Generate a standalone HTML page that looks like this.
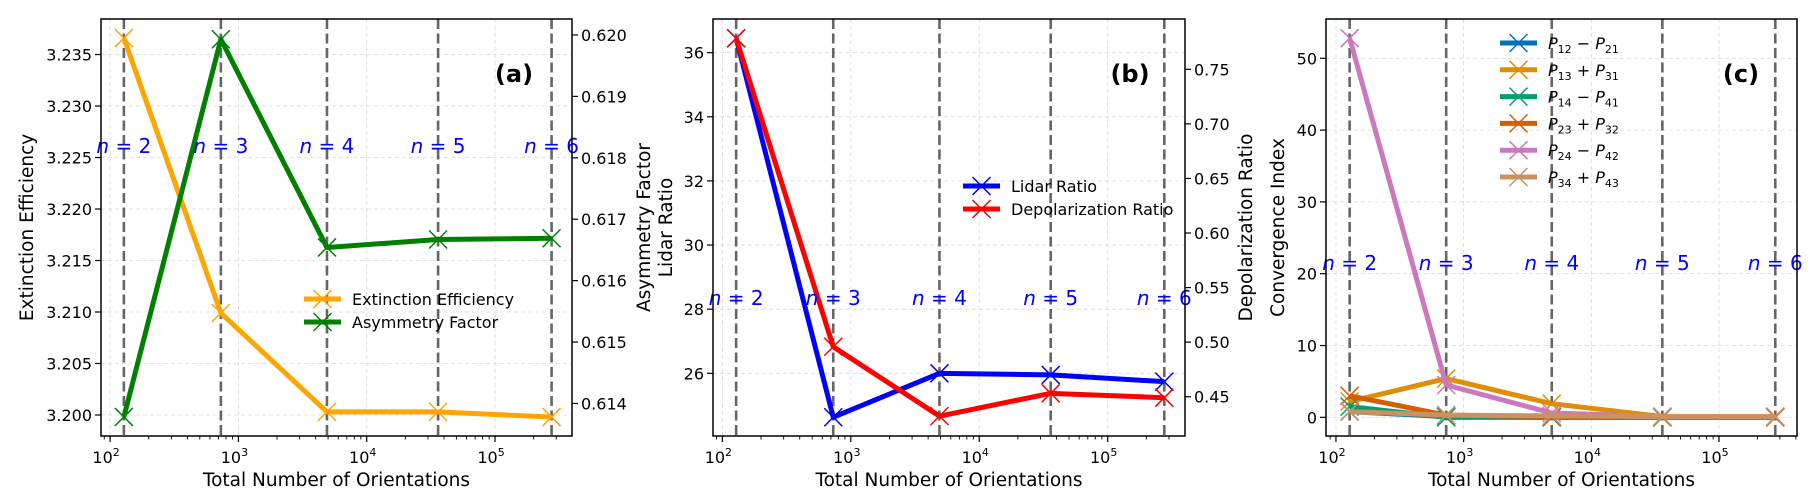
<!DOCTYPE html>
<html><head><meta charset="utf-8"><style>
body{margin:0;background:#fff;}
svg{display:block;font-family:"DejaVu Sans","Liberation Sans",sans-serif;}
</style></head><body>
<svg id="fig" width="1818" height="504" viewBox="0 0 1818 504" xmlns="http://www.w3.org/2000/svg"></svg>
<script>
// ---- data ----
const orientations = [128, 730, 4900, 36000, 276000];
const nLabels = ["2","3","4","5","6"];
const extinctionEff = [3.2366, 3.2099, 3.2003, 3.2003, 3.1998];
const asymmetryFactor = [0.61378, 0.61993, 0.61654, 0.61667, 0.61669];
const lidarRatio = [36.45, 24.63, 26.0, 25.95, 25.74];
const depolRatio = [0.7784, 0.4958, 0.4322, 0.4531, 0.4491];
const p12 = [0.8, 0.1, 0.0, 0.0, 0.0];
const p13 = [2.2, 5.4, 1.9, 0.1, 0.1];
const p14 = [1.5, 0.0, 0.0, 0.0, 0.0];
const p23 = [3.0, 0.3, 0.1, 0.0, 0.0];
const p24 = [52.8, 4.5, 0.6, 0.1, 0.1];
const p34 = [0.8, 0.3, 0.2, 0.1, 0.1];
const ticksA = [3.200,3.205,3.210,3.215,3.220,3.225,3.230,3.235];
const ticksA2 = [0.614,0.615,0.616,0.617,0.618,0.619,0.620];
const ticksB = [26,28,30,32,34,36];
const ticksB2 = [0.45,0.50,0.55,0.60,0.65,0.70,0.75];
const ticksC = [0,10,20,30,40,50];

const svg = document.getElementById('fig');
const NS = 'http://www.w3.org/2000/svg';
function el(tag, attrs, parent, text){
  const e = document.createElementNS(NS, tag);
  for (const k in attrs) e.setAttribute(k, attrs[k]);
  if (text !== undefined) e.textContent = text;
  (parent||svg).appendChild(e);
  return e;
}

function panel(cfg){
  const g = el('g', {});
  
  
  const L=cfg.L,R=cfg.R,T=19,B=436;
  const xs = v => L + (Math.log10(v)-cfg.xmin)/(cfg.xmax-cfg.xmin)*(R-L);
  const ys = (v,lo,hi) => B - (v-lo)/(hi-lo)*(B-T);
  const yl = v => ys(v, cfg.ylo, cfg.yhi);
  const yr = v => ys(v, cfg.rlo, cfg.rhi);
  for (let d=2; d<=5; d++){
    const l = el('line',{x1:xs(Math.pow(10,d)),x2:xs(Math.pow(10,d)),y1:T,y2:B,stroke:'#d8d8d8','stroke-width':0.8,'stroke-dasharray':'4,3'},g);
    
    
  }
  cfg.yticks.forEach(t=>{
    const l = el('line',{x1:L,x2:R,y1:yl(t),y2:yl(t),stroke:'#d8d8d8','stroke-width':0.8,'stroke-dasharray':'4,3'},g);
    
    
  });
  orientations.forEach(o=>{
    const l = el('line',{x1:xs(o),x2:xs(o),y1:T,y2:B,stroke:'#666','stroke-width':2.6,'stroke-dasharray':'10,4.5'},g);
    
    
  });
  cfg.series.forEach(s=>{
    const sc = s.right ? yr : yl;
    const pts = orientations.map((o,i)=>xs(o)+','+sc(s.data[i])).join(' ');
    const sg = el('g',{},g);
    
    
    el('polyline',{points:pts,fill:'none',stroke:s.color,'stroke-width':5,'stroke-linejoin':'round'},sg);
    orientations.forEach((o,i)=>{
      const x=xs(o), y=sc(s.data[i]), m=9;
      const p = el('path',{d:`M${x-m},${y-m}L${x+m},${y+m}M${x-m},${y+m}L${x+m},${y-m}`,stroke:s.color,'stroke-width':1.5,fill:'none'},sg);
      
      
    });
  });
  orientations.forEach((o,i)=>{
    const t = el('text',{x:xs(o),y:cfg.nY,'text-anchor':'middle','font-size':20,fill:'#0000ff'},g);
    
    
    el('tspan',{'font-style':'italic'},t,'n');
    el('tspan',{},t,' = '+nLabels[i]);
  });
  const f = el('rect',{x:L,y:T,width:R-L,height:B-T,fill:'none',stroke:'#000','stroke-width':1.5},g);
  
  
  for (let d=1; d<=5; d++){
    for (let k=1;k<10;k++){
      const v = k*Math.pow(10,d), lv=Math.log10(v);
      if (lv<cfg.xmin||lv>cfg.xmax) continue;
      const x=xs(v);
      el('line',{x1:x,x2:x,y1:B,y2:B+(k==1?6:3.5),stroke:'#000','stroke-width':k==1?1.2:0.9},g);
      if (k==1){
        const t = el('text',{x:x-4,y:463,'text-anchor':'middle','font-size':16},g,'10');
        
        
        el('tspan',{'font-size':11,dy:-7},t,String(d));
      }
    }
  }
  cfg.yticks.forEach(v=>{
    el('line',{x1:L-6,x2:L,y1:yl(v),y2:yl(v),stroke:'#000','stroke-width':1.2},g);
    const t = el('text',{x:L-9,y:yl(v)+6,'text-anchor':'end','font-size':16},g,cfg.yfmt(v));
    
    
  });
  if (cfg.rticks) cfg.rticks.forEach(v=>{
    el('line',{x1:R,x2:R+6,y1:yr(v),y2:yr(v),stroke:'#000','stroke-width':1.2},g);
    const t = el('text',{x:R+9,y:yr(v)+6,'text-anchor':'start','font-size':16},g,cfg.rfmt(v));
    
    
  });
  const xl = el('text',{x:(L+R)/2,y:486,'text-anchor':'middle','font-size':18.5},g,'Total Number of Orientations');
  
  
  const yt = el('text',{x:0,y:0,'text-anchor':'middle','font-size':18.5,transform:`translate(${cfg.ylx},${(T+B)/2}) rotate(-90)`},g,cfg.ylabel);
  
  
  if (cfg.rlabel){
    const rt = el('text',{x:0,y:0,'text-anchor':'middle','font-size':18.5,transform:`translate(${cfg.rlx},${(T+B)/2}) rotate(-90)`},g,cfg.rlabel);
    
    
  }
  const pl = el('text',{x:cfg.tagX,y:82,'text-anchor':'middle','font-size':24,'font-weight':'bold'},g,cfg.tag);
  
  
  cfg.series.forEach((s,i)=>{
    const y = cfg.legY + i*cfg.legDy;
    const lg = el('g',{},g);
    
    
    el('line',{x1:cfg.legX,x2:cfg.legX+37,y1:y,y2:y,stroke:s.color,'stroke-width':5},lg);
    const cx=cfg.legX+18.5,m=9;
    el('path',{d:`M${cx-m},${y-m}L${cx+m},${y+m}M${cx-m},${y+m}L${cx+m},${y-m}`,stroke:s.color,'stroke-width':1.5},lg);
    const t = el('text',{x:cfg.legX+48,y:y+6,'font-size':16},lg);
    if (s.sub){
      el('tspan',{'font-style':'italic'},t,'P');
      el('tspan',{'font-size':11,dy:4},t,s.sub[0]);
      el('tspan',{dy:-4},t,' '+s.sub[1]+' ');
      el('tspan',{'font-style':'italic'},t,'P');
      el('tspan',{'font-size':11,dy:4},t,s.sub[2]);
    } else t.textContent = s.label;
  });
}

panel({name:'panel-a',L:101,R:572,xmin:1.929,xmax:5.600,ylo:3.19796,yhi:3.23845,rlo:0.61347,rhi:0.62026,
  yticks:ticksA,rticks:ticksA2,yfmt:v=>v.toFixed(3),rfmt:v=>v.toFixed(3),nY:153,
  ylabel:'Extinction Efficiency',ylx:33,rlabel:'Asymmetry Factor',rlx:650,tag:'(a)',tagX:514,
  legX:304,legY:299,legDy:23,
  series:[{id:'extinction-efficiency-line',label:'Extinction Efficiency',color:'#ffa500',data:extinctionEff},
          {id:'asymmetry-factor-line',label:'Asymmetry Factor',color:'#008000',data:asymmetryFactor,right:true}]});
panel({name:'panel-b',L:713,R:1185,xmin:1.927,xmax:5.602,ylo:24.045,yhi:37.05,rlo:0.4140,rhi:0.7961,
  yticks:ticksB,rticks:ticksB2,yfmt:v=>String(v),rfmt:v=>v.toFixed(2),nY:305,
  ylabel:'Lidar Ratio',ylx:672,rlabel:'Depolarization Ratio',rlx:1252,tag:'(b)',tagX:1130,
  legX:963,legY:186,legDy:23,
  series:[{id:'lidar-ratio-line',label:'Lidar Ratio',color:'#0000ff',data:lidarRatio},
          {id:'depolarization-ratio-line',label:'Depolarization Ratio',color:'#ff0000',data:depolRatio,right:true}]});
panel({name:'panel-c',L:1326,R:1797,xmin:1.922,xmax:5.611,ylo:-2.6,yhi:55.47,
  yticks:ticksC,yfmt:v=>String(v),nY:270,
  ylabel:'Convergence Index',ylx:1284,tag:'(c)',tagX:1741,
  legX:1500,legY:43,legDy:26.8,
  series:[{id:'p12-line',sub:['12','−','21'],color:'#0173b2',data:p12},
          {id:'p13-line',sub:['13','+','31'],color:'#de8f05',data:p13},
          {id:'p14-line',sub:['14','−','41'],color:'#029e73',data:p14},
          {id:'p23-line',sub:['23','+','32'],color:'#d55e00',data:p23},
          {id:'p24-line',sub:['24','−','42'],color:'#cc78bc',data:p24},
          {id:'p34-line',sub:['34','+','43'],color:'#ca9161',data:p34}]});
</script>
</body></html>
